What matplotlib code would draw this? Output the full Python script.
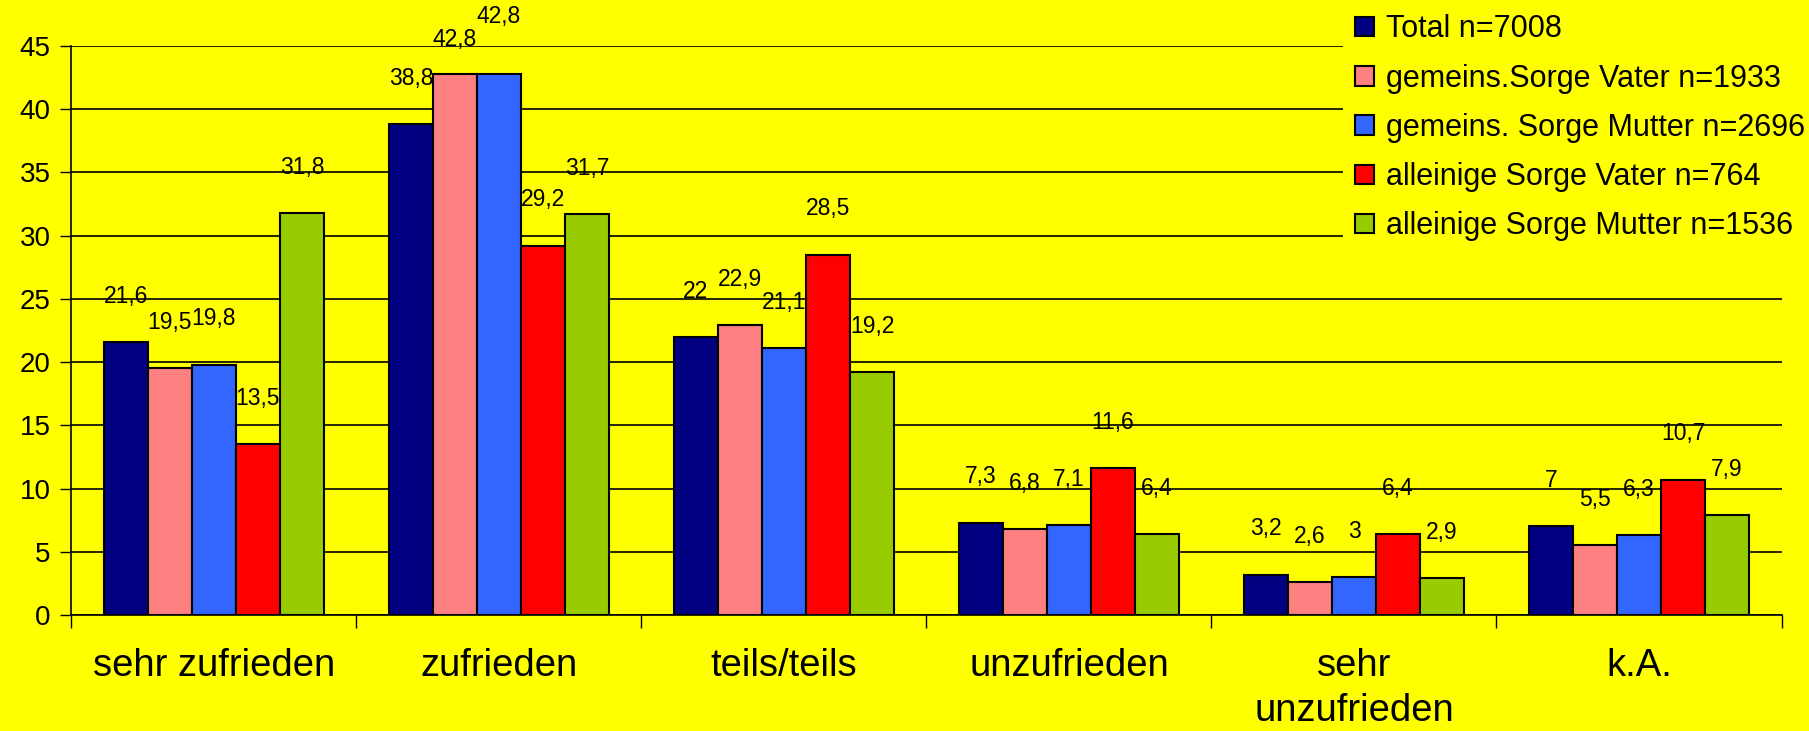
import matplotlib
matplotlib.use("Agg")
import matplotlib.pyplot as plt
from matplotlib.patches import Patch
import numpy as np

plt.rcParams['font.family'] = ['Liberation Sans', 'DejaVu Sans']

categories = ["sehr zufrieden", "zufrieden", "teils/teils", "unzufrieden",
              "sehr\nunzufrieden", "k.A."]
series = ["Total n=7008", "gemeins.Sorge Vater n=1933",
          "gemeins. Sorge Mutter n=2696", "alleinige Sorge Vater n=764",
          "alleinige Sorge Mutter n=1536"]
total = [21.6, 38.8, 22, 7.3, 3.2, 7]
gem_vater = [19.5, 42.8, 22.9, 6.8, 2.6, 5.5]
gem_mutter = [19.8, 42.8, 21.1, 7.1, 3, 6.3]
allein_vater = [13.5, 29.2, 28.5, 11.6, 6.4, 10.7]
allein_mutter = [31.8, 31.7, 19.2, 6.4, 2.9, 7.9]
colors = ["#000080", "#FF8080", "#3366FF", "#FF0000", "#99CC00"]

values = [total, gem_vater, gem_mutter, allein_vater, allein_mutter]

fig = plt.figure(figsize=(18.09, 7.31), dpi=100, facecolor="#FFFF00")
ax = fig.add_axes([0.0395, 0.1587, 0.9453, 0.7783], facecolor="#FFFF00")

x = np.arange(len(categories))
w = 0.1544
n = len(values)
for i, (vals, col) in enumerate(zip(values, colors)):
    pos = x + (i - 2) * w
    ax.bar(pos, vals, width=w, color=col, edgecolor="black", linewidth=1.5,
           zorder=3)
    for j, (p, v) in enumerate(zip(pos, vals)):
        dy = 33
        # stagger two neighbouring labels with the same value
        if i + 1 < n and values[i + 1][j] == v:
            dy -= 8
        if i > 0 and values[i - 1][j] == v:
            dy += 8
        ax.annotate("{:g}".format(v).replace(".", ","), (p, v),
                    xytext=(0, dy), textcoords="offset points",
                    ha="center", va="center", fontsize=16.5, zorder=4)

ax.set_xlim(-0.5, len(categories) - 0.5)
ax.set_ylim(0, 45)
ax.set_yticks(np.arange(0, 46, 5))
ax.yaxis.grid(True, color="black", linewidth=1.2, zorder=0)
ax.tick_params(axis="y", labelsize=20, length=8, width=1, pad=7)

# category names in the middle, tick marks between the groups
ax.set_xticks(x)
ax.set_xticklabels(categories, fontsize=27.5, linespacing=1.32)
ax.set_xticks(np.arange(-0.5, len(categories)), minor=True)
ax.tick_params(axis="x", which="major", length=0, pad=24)
ax.tick_params(axis="x", which="minor", length=9, width=1)

for s in ["top", "right"]:
    ax.spines[s].set_visible(False)
for s in ["left", "bottom"]:
    ax.spines[s].set_linewidth(1.2)
    ax.spines[s].set_zorder(5)

handles = [Patch(facecolor=c, edgecolor="black", linewidth=1.5) for c in colors]
leg = fig.legend(handles, series, loc="upper left",
                 bbox_to_anchor=(0.734, 1.018), fontsize=22,
                 frameon=True, facecolor="#FFFF00", edgecolor="none",
                 framealpha=1, fancybox=False, handlelength=0.6,
                 handleheight=0.6, handletextpad=0.4, labelspacing=0.63,
                 borderpad=0.4)

fig.savefig("out.png", dpi=100, facecolor=fig.get_facecolor())
